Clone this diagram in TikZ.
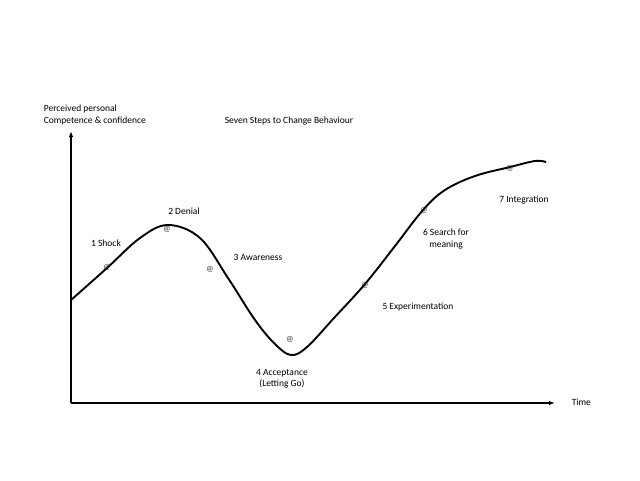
\documentclass[tikz,border=0pt]{standalone}
\usepackage{fontspec}
\setmainfont{Carlito}
\usetikzlibrary{arrows.meta}
\definecolor{ink}{HTML}{000000}

\begin{document}
\begin{tikzpicture}[x=1pt, y=-1pt, line width=1.6pt,
  lbl/.style={font=\fontsize{9.5}{11.5}\selectfont, align=center, inner sep=0pt},
  stepmark/.style={font=\fontsize{8}{8}\selectfont, inner sep=0pt, text=ink!85}]
  \useasboundingbox (0,0) rectangle (640,480);
  % axes
  \coordinate (o) at (71,403);
  \coordinate (ytop) at (71,131);
  \coordinate (xend) at (555,403);
  \draw[-{Latex[length=6pt,width=4.5pt]}] (o) -- (ytop);
  \draw[-{Latex[length=6pt,width=4.5pt]}] (o) -- (xend);
  \node[lbl, align=left, anchor=west] (ylab) at (43,115) {Perceived personal\\Competence \& confidence};
  \node[lbl, anchor=west] (xlab) at (571,402) {Time};
  \node[lbl] (title) at (289,121) {Seven Steps to Change Behaviour};
  % the change curve
  \draw[line width=1.9pt] plot[smooth, tension=0.6] coordinates {
    (71,300) (107,268) (140,238) (168,225) (200,238) (228,278)
    (255,320) (275,344) (291,355) (307,347) (334,318) (365,284)
    (395,246) (423,210) (445,190) (475,176) (510,167) (535,161) (546,162)};
  % step markers
  \foreach \n/\p in {1/{(107,267)}, 2/{(167,229)}, 3/{(210,269)}, 4/{(290,339)},
                     5/{(365,285)}, 6/{(424,210)}, 7/{(510,168)}}{
    \node[stepmark] (m\n) at \p {@};
  }
  % step labels
  \node[lbl] (s1) at (106,243) {1 Shock};
  \node[lbl] (s2) at (184,211) {2 Denial};
  \node[lbl] (s3) at (258,257) {3 Awareness};
  \node[lbl] (s4) at (282,379) {4 Acceptance\\(Letting Go)};
  \node[lbl] (s5) at (418,307) {5 Experimentation};
  \node[lbl] (s6) at (446,239) {6 Search for\\meaning};
  \node[lbl] (s7) at (524,200) {7 Integration};
\end{tikzpicture}
\end{document}
